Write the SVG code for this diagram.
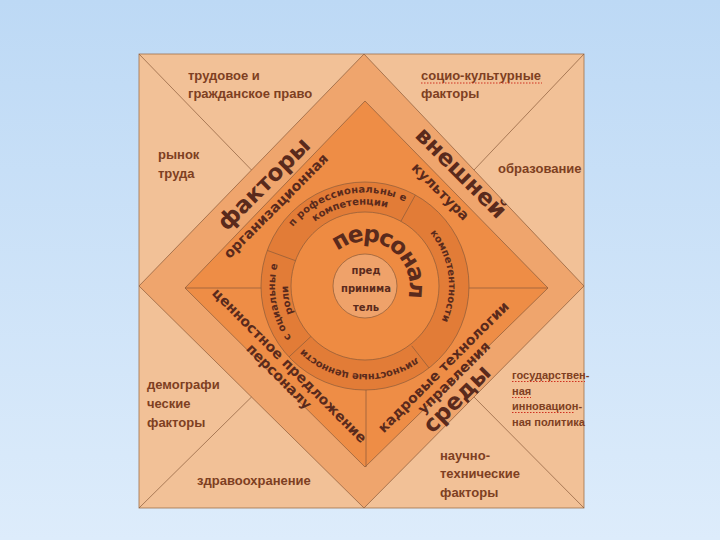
<svg xmlns="http://www.w3.org/2000/svg" width="720" height="540" viewBox="0 0 720 540">
<defs>
<linearGradient id="bg" x1="0" y1="0" x2="0" y2="1"><stop offset="0" stop-color="#BDD9F5"/><stop offset="1" stop-color="#DDECFB"/></linearGradient>
<path id="pPers" d="M 320.5,286 A 44.5 44.5 0 1 1 409.5,286 A 44.5 44.5 0 1 1 320.5,286"/>
<path id="pR93" d="M 271.7,286 A 93.3 93.3 0 1 1 458.3,286 A 93.3 93.3 0 1 1 271.7,286"/>
<path id="pR81" d="M 283.7,286 A 81.3 81.3 0 1 1 446.3,286 A 81.3 81.3 0 1 1 283.7,286"/>
<path id="pR84" d="M 281,286 A 84 84 0 1 1 449,286 A 84 84 0 1 1 281,286"/>
<path id="pR88" d="M 277,286 A 88 88 0 1 1 453,286 A 88 88 0 1 1 277,286"/>
<path id="pL90" d="M 365,376 A 90 90 0 1 1 365,196 A 90 90 0 1 1 365,376"/>
<path id="pL77" d="M 365,363 A 77 77 0 1 1 365,209 A 77 77 0 1 1 365,363"/>
</defs>
<style>
.lbl{font-family:"Liberation Sans","DejaVu Sans",sans-serif;font-weight:bold;font-size:13px;fill:#7E3F22}
.sm{font-size:11px}
.big{font-family:"DejaVu Sans",sans-serif;font-weight:bold;font-size:23px;fill:#5A2A1C}
.mid{font-family:"DejaVu Sans",sans-serif;font-weight:bold;font-size:14px;fill:#5A2A1C}
.ring{font-family:"DejaVu Sans",sans-serif;font-weight:bold;font-size:10px;fill:#5A2A1C}
.ln{stroke:#8A5A3A;stroke-width:0.7;fill:none}
.sp{stroke:#D03020;stroke-width:1;stroke-dasharray:1.5 1.5;fill:none}
</style>
<rect x="0" y="0" width="720" height="540" fill="url(#bg)"/>
<g id="frame">
<rect x="139" y="54" width="445" height="454" fill="#F2C197" stroke="#A0704A" stroke-width="0.8"/>
</g>
<g id="outer-diamond">
<polygon points="364,54 584,286 364,508 139,286" fill="#EFA56D" stroke="#8A5A3A" stroke-width="0.7"/>
</g>
<g id="inner-diamond">
<polygon points="365,101 548,288 365,467 185,288" fill="#EE8D46" stroke="#8A5A3A" stroke-width="0.7"/>
</g>
<g id="connectors">
<line class="ln" x1="139" y1="54" x2="251.5" y2="170"/>
<line class="ln" x1="584" y1="54" x2="474" y2="170"/>
<line class="ln" x1="584" y1="508" x2="474" y2="397"/>
<line class="ln" x1="139" y1="508" x2="251.5" y2="397"/>
<line class="ln" x1="185" y1="288" x2="262" y2="288"/>
<line class="ln" x1="468" y1="288" x2="548" y2="288"/>
<line class="ln" x1="366" y1="390" x2="366" y2="467"/>
</g>
<g id="ring">
<circle cx="365" cy="286" r="104" fill="#E27C37" stroke="#8A5A3A" stroke-width="0.7"/>
<circle cx="365" cy="286" r="74" fill="#EE8B42" stroke="#8A5A3A" stroke-width="0.7"/>
<line class="ln" x1="267.3" y1="250.4" x2="295.5" y2="260.7"/>
<line class="ln" x1="415.4" y1="195.0" x2="400.9" y2="221.3"/>
<line class="ln" x1="429.0" y1="367.9" x2="411.7" y2="345.8"/>
<line class="ln" x1="289.0" y1="356.9" x2="310.9" y2="336.5"/>
<text class="ring"><textPath href="#pR93" startOffset="21.49%" text-anchor="middle" letter-spacing="0.2">п рофессиональны е</textPath></text>
<text class="ring" font-size="9.5"><textPath href="#pR81" startOffset="21.94%" text-anchor="middle">компетенции</textPath></text>
<text class="ring" font-size="11.5"><textPath href="#pR84" startOffset="47.92%" text-anchor="middle">компетентности</textPath></text>
<text class="ring"><textPath href="#pR88" startOffset="76.19%" text-anchor="middle" letter-spacing="-0.2">личностные ценности</textPath></text>
<text class="ring"><textPath href="#pL90" startOffset="22.06%" text-anchor="middle">с оциальны е</textPath></text>
<text class="ring"><textPath href="#pL77" startOffset="22.11%" text-anchor="middle">роли</textPath></text>
</g>
<g id="personnel">
<text class="big" font-size="24" letter-spacing="-2"><textPath href="#pPers" startOffset="33.97%" text-anchor="middle">персонал</textPath></text>
</g>
<g id="core">
<circle cx="365" cy="286" r="32" fill="#EFA26A" stroke="#8A5A3A" stroke-width="0.7"/>
<text class="ring" font-size="10.5" text-anchor="middle"><tspan x="366" y="274">пред</tspan><tspan x="366" y="292">принима</tspan><tspan x="366" y="311">тель</tspan></text>
</g>
<g id="factors">
<text class="big" transform="translate(265,185) rotate(-45)" text-anchor="middle" y="6">факторы</text>
<text class="mid" transform="translate(276.5,206.5) rotate(-45)" text-anchor="middle" y="4" font-size="14.5">организационная</text>
</g>
<g id="external">
<text class="big" transform="translate(460,174) rotate(45)" text-anchor="middle" y="6">внешней</text>
<text class="mid" transform="translate(440,192) rotate(45)" text-anchor="middle" y="4" font-size="14.5">культура</text>
</g>
<g id="environment">
<text class="big" transform="translate(458,400) rotate(-45)" text-anchor="middle" y="6">среды</text>
<text class="mid" transform="translate(444,367.5) rotate(-45)" text-anchor="middle" y="4">кадровые технологии</text>
<text class="mid" transform="translate(454.5,378) rotate(-45)" text-anchor="middle" y="4">управления</text>
</g>
<g id="value">
<text class="mid" transform="translate(289,366) rotate(45)" text-anchor="middle" y="4">ценностное предложение</text>
<text class="mid" transform="translate(278.5,377) rotate(45)" text-anchor="middle" y="4">персоналу</text>
</g>
<g id="labels">
<text class="lbl"><tspan x="188" y="80">трудовое и</tspan><tspan x="188" y="98">гражданское право</tspan></text>
<text class="lbl"><tspan x="421" y="80">социо-культурные</tspan><tspan x="421" y="98">факторы</tspan></text>
<path class="sp" d="M421,83 H542"/>
<text class="lbl"><tspan x="158" y="159">рынок</tspan><tspan x="158" y="178">труда</tspan></text>
<text class="lbl" x="498" y="173">образование</text>
<text class="lbl"><tspan x="147" y="389">демографи</tspan><tspan x="147" y="408">ческие</tspan><tspan x="147" y="427">факторы</tspan></text>
<text class="lbl" x="197" y="485">здравоохранение</text>
<text class="lbl sm"><tspan x="512" y="379">государствен-</tspan><tspan x="512" y="395">ная</tspan><tspan x="512" y="410">инновацион-</tspan><tspan x="512" y="426">ная политика</tspan></text>
<path class="sp" d="M512,381.5 H585 M512,397.5 H531 M512,412.5 H575"/>
<text class="lbl"><tspan x="440" y="460">научно-</tspan><tspan x="440" y="478">технические</tspan><tspan x="440" y="497">факторы</tspan></text>
</g>
</svg>
